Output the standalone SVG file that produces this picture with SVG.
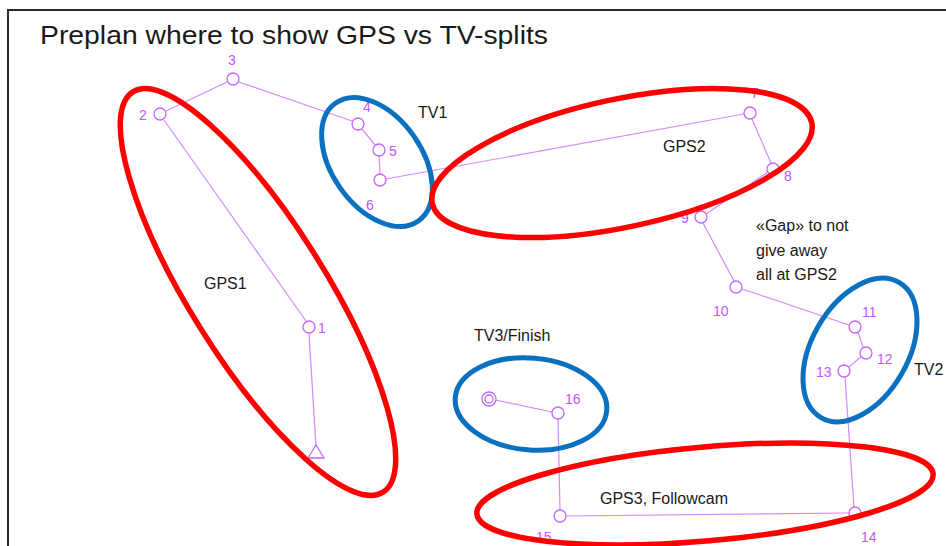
<svg xmlns="http://www.w3.org/2000/svg" width="946" height="546" viewBox="0 0 946 546">
<defs>
<style>
.frame{fill:none;stroke:#2b2b2b;stroke-width:2}
.t{font-family:"Liberation Sans",Arial,sans-serif;fill:#1a1a1a}
.lbl{font-family:"Liberation Sans",Arial,sans-serif;font-size:14px;fill:#c455ff}
.n{fill:#fff;stroke:#c666ff;stroke-width:1.3}
.e{fill:none;stroke:#cf8cff;stroke-width:1.2}
.red{fill:none;stroke:#ff0000;stroke-width:5.5}
.blue{fill:none;stroke:#0a70c0;stroke-width:5}
</style>
</defs>
<rect width="946" height="546" fill="#fff"/>
<path class="frame" d="M8,546 V10 H946"/>
<text class="t" x="40" y="44" font-size="26" textLength="508" lengthAdjust="spacingAndGlyphs">Preplan where to show GPS vs TV-splits</text>

<g id="connectors">
<line class="e" x1="316" y1="446" x2="309" y2="334"/>
<line class="e" x1="306" y1="321" x2="164" y2="120"/>
<line class="e" x1="166" y1="111" x2="227" y2="82"/>
<line class="e" x1="239" y1="82" x2="352" y2="121"/>
<line class="e" x1="362" y1="129" x2="375" y2="145"/>
<line class="e" x1="379" y1="156" x2="380" y2="174"/>
<line class="e" x1="386" y1="179" x2="744" y2="114"/>
<line class="e" x1="752" y1="119" x2="771" y2="163"/>
<line class="e" x1="768" y1="172" x2="706" y2="214"/>
<line class="e" x1="703" y1="223" x2="734" y2="281"/>
<line class="e" x1="742" y1="289" x2="849" y2="325"/>
<line class="e" x1="858" y1="332" x2="863" y2="347"/>
<line class="e" x1="861" y1="357" x2="849" y2="367"/>
<line class="e" x1="845" y1="377" x2="854" y2="507"/>
<line class="e" x1="849" y1="513" x2="566" y2="516"/>
<line class="e" x1="560" y1="510" x2="558" y2="419"/>
<line class="e" x1="552" y1="412" x2="495" y2="400"/>
</g>

<g id="start"><path class="n" d="M316,445 L324,458 L308,458 Z"/></g>
<g id="n1"><circle class="n" cx="309" cy="327" r="6"/><text class="lbl" x="318" y="333">1</text></g>
<g id="n2"><circle class="n" cx="160" cy="114" r="6"/><text class="lbl" x="139" y="120">2</text></g>
<g id="n3"><circle class="n" cx="233" cy="79" r="6"/><text class="lbl" x="228" y="65">3</text></g>
<g id="n4"><circle class="n" cx="358" cy="124" r="6"/><text class="lbl" x="363" y="112">4</text></g>
<g id="n5"><circle class="n" cx="379" cy="150" r="6"/><text class="lbl" x="389" y="156">5</text></g>
<g id="n6"><circle class="n" cx="380" cy="180" r="6"/><text class="lbl" x="366" y="210">6</text></g>
<g id="n7"><circle class="n" cx="750" cy="113" r="6"/><text class="lbl" x="751" y="98">7</text></g>
<g id="n8"><circle class="n" cx="773" cy="169" r="6"/><text class="lbl" x="784" y="181">8</text></g>
<g id="n9"><circle class="n" cx="701" cy="217" r="6"/><text class="lbl" x="681" y="223">9</text></g>
<g id="n10"><circle class="n" cx="736" cy="287" r="6"/><text class="lbl" x="713" y="316">10</text></g>
<g id="n11"><circle class="n" cx="855" cy="327" r="6"/><text class="lbl" x="862" y="317">11</text></g>
<g id="n12"><circle class="n" cx="866" cy="353" r="6"/><text class="lbl" x="877" y="364">12</text></g>
<g id="n13"><circle class="n" cx="844" cy="371" r="6"/><text class="lbl" x="816" y="377">13</text></g>
<g id="n14"><circle class="n" cx="855" cy="513" r="6"/><text class="lbl" x="861" y="542">14</text></g>
<g id="n15"><circle class="n" cx="560" cy="516" r="6"/><text class="lbl" x="536" y="542">15</text></g>
<g id="n16"><circle class="n" cx="558" cy="413" r="6"/><text class="lbl" x="565" y="404">16</text></g>
<g id="finish"><circle class="n" cx="489" cy="399" r="7"/><circle class="n" cx="489" cy="399" r="4"/></g>

<g id="GPS1"><ellipse class="red" cx="258" cy="292" rx="236" ry="68" transform="rotate(58 258 292)"/><text class="t" x="204" y="289" font-size="16">GPS1</text></g>
<g id="TV1"><ellipse class="blue" cx="377" cy="162" rx="72" ry="45" transform="rotate(55 377 162)"/><text class="t" x="418" y="118" font-size="16">TV1</text></g>
<g id="GPS2"><ellipse class="red" cx="622" cy="163" rx="194" ry="64" transform="rotate(-12 622 163)"/><text class="t" x="663" y="152" font-size="16">GPS2</text></g>
<g id="gapnote"><text class="t" font-size="16"><tspan x="756" y="231">«Gap» to not</tspan><tspan x="756" y="256">give away</tspan><tspan x="756" y="280">all at GPS2</tspan></text></g>
<g id="TV2"><ellipse class="blue" cx="860" cy="350" rx="78" ry="48" transform="rotate(-60 860 350)"/><text class="t" x="914" y="375" font-size="16">TV2</text></g>
<g id="TV3"><ellipse class="blue" cx="531" cy="404" rx="76" ry="46" transform="rotate(5 531 404)"/><text class="t" x="474" y="341" font-size="16">TV3/Finish</text></g>
<g id="GPS3"><ellipse class="red" cx="705" cy="494" rx="229" ry="47" transform="rotate(-5 705 494)"/><text class="t" x="600" y="504" font-size="16">GPS3, Followcam</text></g>
</svg>
